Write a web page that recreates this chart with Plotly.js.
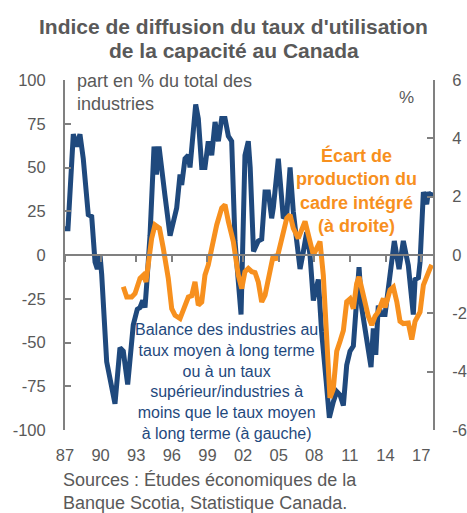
<!DOCTYPE html>
<html>
<head>
<meta charset="utf-8">
<script src="https://cdn.plot.ly/plotly-3.0.1.min.js"></script>
<style>
  body { margin: 0; background: #fff; }
  #chart { width: 467px; height: 513px; }
</style>
</head>
<body>
<div id="chart"></div>
<script>
// diffusion index (left axis)
const balanceYears = [1987.00, 1987.25, 1987.70, 1987.99, 1988.26, 1988.54, 1988.96, 1989.25, 1989.53, 1989.72,
  1989.95, 1990.09, 1990.51, 1991.21, 1991.63, 1991.91, 1992.28, 1992.75, 1993.09, 1993.32,
  1993.55, 1993.74, 1993.88, 1994.16, 1994.50, 1994.70, 1994.92, 1995.15, 1995.42, 1995.85,
  1996.12, 1996.41, 1996.69, 1996.83, 1997.11, 1997.39, 1997.53, 1997.81, 1998.01, 1998.23,
  1998.52, 1998.79, 1999.07, 1999.36, 1999.64, 1999.92, 2000.20, 2000.48, 2000.76, 2001.04,
  2001.32, 2001.83, 2002.16, 2002.44, 2002.60, 2002.88, 2003.28, 2003.57, 2003.85, 2004.13,
  2004.41, 2004.55, 2004.97, 2005.39, 2005.68, 2005.96, 2006.23, 2006.52, 2006.80, 2007.08,
  2007.36, 2007.64, 2007.92, 2008.34, 2008.62, 2009.00, 2009.27, 2009.60, 2009.89, 2010.17,
  2010.45, 2010.73, 2011.01, 2011.29, 2011.57, 2011.77, 2011.99, 2012.27, 2012.55, 2012.78,
  2012.97, 2013.18, 2013.39, 2013.68, 2013.96, 2014.38, 2014.74, 2015.14, 2015.50, 2015.92,
  2016.34, 2016.49, 2016.77, 2016.91, 2017.19, 2017.47, 2017.61, 2017.75, 2017.89];
const balanceValues = [15, 15, 69, 62, 69, 55, 23, 22, -4, -8,
  0, -11, -61, -85, -53, -55, -74, -40, -31, -30,
  -26, -30, -17, 11, 62, 46, 62, 46, 34, 11,
  19, 27, 46, 40, 55, 57, 50, 72, 86, 78,
  50, 50, 65, 57, 76, 65, 78, 78, 68, 65,
  8, -34, 57, 65, 50, 2, 8, 9, 36, 36,
  21, 27, 55, 21, 23, 50, 25, 8, -8, 2,
  13, 0, -26, -14, -44, -72, -93, -84, -78, -80,
  -86, -63, -55, -52, -30, -7, -30, -42, -57, -64,
  -42, -57, -29, -34, -34, -11, 8, -8, 8, -6,
  -34, -14, -13, -4, 36, 29, 36, 33, 36];

// output gap (right axis, %)
const gapYears = [1991.91, 1992.20, 1992.62, 1992.90, 1993.32, 1993.60, 1993.82, 1994.02, 1994.30, 1994.58,
  1994.96, 1995.28, 1995.70, 1995.99, 1996.27, 1996.69, 1996.97, 1997.39, 1997.67, 1997.95,
  1998.23, 1998.52, 1998.79, 1999.07, 1999.36, 1999.78, 2000.20, 2000.48, 2000.76, 2001.18,
  2001.60, 2001.89, 2002.16, 2002.44, 2002.73, 2003.01, 2003.28, 2003.57, 2003.85, 2004.27,
  2004.55, 2004.83, 2005.26, 2005.68, 2005.96, 2006.23, 2006.65, 2006.94, 2007.22, 2007.64,
  2007.92, 2008.20, 2008.48, 2008.76, 2009.04, 2009.32, 2009.60, 2009.89, 2010.17, 2010.45,
  2010.73, 2011.01, 2011.29, 2011.57, 2011.77, 2012.13, 2012.55, 2012.84, 2013.12, 2013.39,
  2013.82, 2013.96, 2014.38, 2014.66, 2014.95, 2015.22, 2015.50, 2015.92, 2016.21, 2016.49,
  2016.91, 2017.19, 2017.47, 2017.75, 2017.89];
const gapValues = [-1.09, -1.44, -1.44, -1.32, -0.80, -0.69, -0.92, -0.23, 0.57, 1.03,
  0.92, 0.23, -0.80, -1.84, -2.07, -2.18, -1.84, -1.44, -1.40, -0.92,
  -1.72, -1.61, -0.69, -0.34, 0.23, 1.03, 1.61, 1.72, 1.15, 0.46,
  -0.69, -1.15, -0.57, -0.46, -0.57, -0.60, -0.92, -1.61, -1.38, -0.57,
  0.00, -0.17, 0.57, 1.26, 1.38, 0.92, 0.57, 0.92, 1.15, 0.46,
  0.00, 0.23, 0.46, -0.69, -2.99, -4.90, -4.60, -3.30, -2.96, -2.59,
  -1.60, -1.50, -1.84, -0.98, -0.75, -1.45, -2.10, -2.40, -2.10, -1.95,
  -1.49, -1.80, -1.20, -1.10, -1.60, -2.27, -2.35, -2.33, -2.90, -2.27,
  -1.95, -1.03, -0.69, -0.46, -0.34];

const tickYears = [1987, 1990, 1993, 1996, 1999, 2002, 2005, 2008, 2011, 2014, 2017];
const tickLabels = ['87', '90', '93', '96', '99', '02', '05', '08', '11', '14', '17'];
const leftTicks = [-100, -75, -50, -25, 0, 25, 50, 75, 100];
const leftLabels = ['-100', '-75', '-50', '-25', '0', '25', '50', '75', '100'];
const rightTicks = [-6, -4, -2, 0, 2, 4, 6];
const rightLabels = ['-6', '-4', '-2', '0', '2', '4', '6'];

const blue = '#1f497d';
const orange = '#f7901e';
const grey = '#595959';
const axisGrey = '#808080';
const font = 'Liberation Sans, Arial, sans-serif';

const traces = [
  {
    x: balanceYears, y: balanceValues, type: 'scatter', mode: 'lines',
    line: {color: blue, width: 5}, xaxis: 'x', yaxis: 'y', hoverinfo: 'skip'
  },
  {
    // carries the axis that sits on the zero line
    x: [], y: [], type: 'scatter', mode: 'lines', xaxis: 'x2', yaxis: 'y', hoverinfo: 'skip'
  },
  {
    x: gapYears, y: gapValues, type: 'scatter', mode: 'lines',
    line: {color: orange, width: 5}, xaxis: 'x', yaxis: 'y2', hoverinfo: 'skip'
  }
];

const tickFont = {size: 16.5, color: grey};

const layout = {
  width: 467, height: 513,
  margin: {l: 65, r: 34, t: 80, b: 83},
  paper_bgcolor: '#fff', plot_bgcolor: 'rgba(0,0,0,0)',
  showlegend: false,
  font: {family: font, size: 16, color: grey},
  xaxis: {
    range: [1987, 2018], tickvals: tickYears, ticktext: tickLabels,
    showline: false, showgrid: false, zeroline: false, ticks: '',
    ticklabelstandoff: 13, tickfont: tickFont
  },
  xaxis2: {
    overlaying: 'x', anchor: 'free', position: 0.5, range: [1987, 2018],
    tickvals: tickYears, showticklabels: false, ticks: 'outside', ticklen: 6,
    tickcolor: axisGrey, tickwidth: 2, showline: true, linecolor: axisGrey, linewidth: 2,
    showgrid: false, zeroline: false
  },
  yaxis: {
    range: [-100, 100], tickvals: leftTicks, ticktext: leftLabels,
    showline: true, linecolor: axisGrey, linewidth: 2, ticks: 'inside', ticklen: 6,
    tickcolor: axisGrey, tickwidth: 2, showgrid: false, zeroline: false,
    ticklabelstandoff: 14, tickfont: tickFont
  },
  yaxis2: {
    overlaying: 'y', side: 'right', range: [-6, 6], tickvals: rightTicks, ticktext: rightLabels,
    showline: true, linecolor: axisGrey, linewidth: 2, ticks: 'inside', ticklen: 6,
    tickcolor: axisGrey, tickwidth: 2, showgrid: false, zeroline: false,
    ticklabelstandoff: 14, tickfont: tickFont
  },
  annotations: [
    {
      text: "<b>Indice de diffusion du taux d'utilisation</b>", xref: 'paper', yref: 'paper',
      x: 0.459, y: 1.154, xanchor: 'center', yanchor: 'middle', showarrow: false,
      font: {size: 21, color: grey}
    },
    {
      text: '<b>de la capacité au Canada</b>', xref: 'paper', yref: 'paper',
      x: 0.459, y: 1.083, xanchor: 'center', yanchor: 'middle', showarrow: false,
      font: {size: 21, color: grey}
    },
    {
      text: 'part en % du total des<br>industries', xref: 'paper', yref: 'paper',
      x: 0.027, y: 0.964, xanchor: 'left', yanchor: 'middle', align: 'left', showarrow: false,
      font: {size: 18, color: grey}
    },
    {
      text: '%', xref: 'paper', yref: 'paper', x: 0.927, y: 0.951,
      xanchor: 'center', yanchor: 'middle', showarrow: false, font: {size: 17, color: grey}
    },
    {
      text: '<b>Écart de<br>production du<br>cadre intégré<br>(à droite)</b>', xref: 'paper', yref: 'paper',
      x: 0.793, y: 0.683, xanchor: 'center', yanchor: 'middle', align: 'center', showarrow: false,
      font: {size: 18, color: orange}
    },
    {
      text: 'Balance des industries au<br>taux moyen à long terme<br>ou à un taux<br>supérieur/industries à<br>moins que le taux moyen<br>à long terme (à gauche)',
      xref: 'paper', yref: 'paper', x: 0.44, y: 0.14, xanchor: 'center', yanchor: 'middle',
      align: 'center', showarrow: false, font: {size: 16, color: blue}
    },
    {
      text: 'Sources : Études économiques de la<br>Banque Scotia, Statistique Canada.',
      xref: 'paper', yref: 'paper', x: -0.01, y: -0.177, xanchor: 'left', yanchor: 'middle',
      align: 'left', showarrow: false, font: {size: 18, color: grey}
    }
  ]
};

Plotly.newPlot('chart', traces, layout, {displayModeBar: false, staticPlot: true});
</script>
</body>
</html>
